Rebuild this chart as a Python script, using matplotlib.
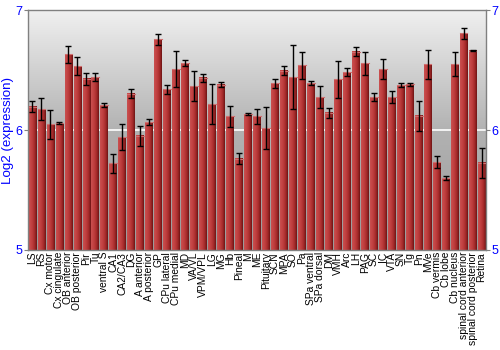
import numpy as np
import matplotlib
matplotlib.use('Agg')
import matplotlib.pyplot as plt
from matplotlib.colors import LinearSegmentedColormap

regions = ['LS', 'RS', 'Cx motor', 'Cx cingulate', 'OB anterior', 'OB posterior',
           'Pir', 'Tu', 'ventral S', 'CA1', 'CA2/CA3', 'DG', 'A anterior',
           'A posterior', 'GP', 'CPu lateral', 'CPu medial', 'MD', 'VA/VL',
           'VPM/VPL', 'LG', 'MG', 'Hb', 'Pineal', 'M', 'ME', 'Pituitary', 'SCN',
           'MPA', 'SO', 'Pa', 'SPa ventral', 'SPa dorsal', 'DM', 'VMH', 'Arc',
           'LH', 'PAG', 'SC', 'IC', 'VTA', 'SN', 'Tg', 'Pn', 'MVe', 'Cb vermis',
           'Cb lobe', 'Cb nucleus', 'spinal cord anterior',
           'spinal cord posterior', 'Retina']

expr = [6.194, 6.175, 6.047, 6.058, 6.633, 6.533, 6.428, 6.442, 6.206, 5.722,
        5.942, 6.303, 5.953, 6.067, 6.756, 6.339, 6.508, 6.558, 6.367, 6.436,
        6.214, 6.378, 6.114, 5.761, 6.131, 6.114, 6.017, 6.389, 6.494, 6.442,
        6.539, 6.392, 6.275, 6.144, 6.422, 6.483, 6.653, 6.556, 6.272, 6.506,
        6.275, 6.372, 6.381, 6.119, 6.547, 5.733, 5.600, 6.547, 6.806, 6.661,
        5.728]

err = [0.046, 0.088, 0.118, 0.008, 0.071, 0.074, 0.049, 0.036, 0.017, 0.082,
       0.111, 0.039, 0.083, 0.021, 0.049, 0.039, 0.153, 0.026, 0.128, 0.035,
       0.167, 0.022, 0.090, 0.044, 0.007, 0.065, 0.178, 0.038, 0.038, 0.268,
       0.115, 0.018, 0.092, 0.043, 0.157, 0.033, 0.039, 0.097, 0.033, 0.083,
       0.050, 0.017, 0.011, 0.126, 0.121, 0.049, 0.017, 0.100, 0.044, 0.004,
       0.126]

ymin, ymax = 5, 7
blue = '#0000ff'

fig = plt.figure(figsize=(5, 3.5), dpi=100)
ax = fig.add_axes([0.056, 0.286, 0.916, 0.685])

n = len(regions)
x = np.arange(n)
ax.set_xlim(-0.5, n - 0.5)
ax.set_ylim(ymin, ymax)

# gray gradient background
bg = LinearSegmentedColormap.from_list('bg', ['#9a9a9a', '#b2b2b2', '#f0f0f0'])
ax.imshow(np.linspace(0, 1, 256).reshape(-1, 1), cmap=bg, aspect='auto',
          extent=(-0.5, n - 0.5, ymin, ymax), origin='lower', zorder=0)
ax.axhline(6, color='white', lw=1.2, zorder=1)

# bars with horizontal shading
barcm = LinearSegmentedColormap.from_list('bar', ['#c85050', '#c44444', '#b83838', '#a02828', '#6e1414'])
shade = np.linspace(0, 1, 32).reshape(1, -1)
w = 0.86
for xi, v in zip(x, expr):
    ax.imshow(shade, cmap=barcm, aspect='auto',
              extent=(xi - w / 2, xi + w / 2, ymin, v), zorder=2)
    ax.plot([xi - w / 2, xi + w / 2], [v, v], color='#d07070', lw=0.8, zorder=3)

ax.errorbar(x, expr, yerr=err, fmt='none', ecolor='black', elinewidth=1.0,
            capsize=2.0, capthick=1.0, zorder=4)

ax.set_xticks(x)
ax.set_xticklabels(regions, rotation=90, fontsize=7.4, family='Liberation Sans')
ax.tick_params(axis='x', length=0, pad=1.5)

ax.set_yticks([5, 6, 7])
ax.tick_params(axis='y', colors='#808080', labelcolor=blue, labelsize=9,
               length=3, labelright=True, right=True, pad=1)
for lab in ax.get_yticklabels():
    lab.set_family('Liberation Sans')
ax.set_ylabel('Log2 (expression)', color=blue, fontsize=9.6,
              family='Liberation Sans')
ax.yaxis.set_label_coords(-0.03, 0.5)

for s in ax.spines.values():
    s.set_color('#808080')
    s.set_linewidth(1)

fig.savefig('out.png', dpi=100)
